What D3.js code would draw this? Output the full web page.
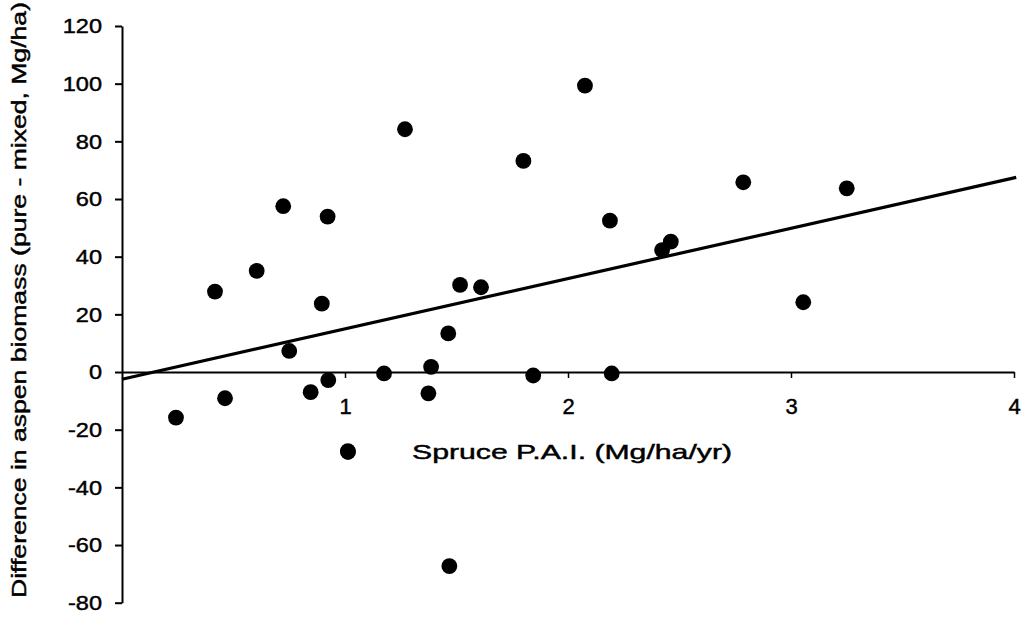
<!DOCTYPE html>
<html><head><meta charset="utf-8">
<script src="https://cdn.jsdelivr.net/npm/d3@7"></script>
<style>
body{margin:0;background:#fff;}
svg text{font-family:"Liberation Sans",Arial,sans-serif;fill:#000;stroke:#000;stroke-width:0.45px;}
</style></head>
<body><svg id="c" width="1027" height="625"></svg>
<script>
const pai = [0.242,0.417,0.462,0.604,0.723,0.750,0.846,0.896,0.922,0.925,1.013,1.175,1.269,1.374,1.386,1.463,1.468,1.516,1.610,1.800,1.844,2.076,2.188,2.196,2.422,2.461,2.786,3.055,3.250];
const diff = [-15.8,27.9,-9.1,35.1,57.5,7.3,-7.0,23.7,53.9,-2.8,-27.4,-0.5,84.2,-7.4,1.8,13.4,-67.3,30.2,29.4,73.2,-1.2,99.3,52.5,-0.5,42.3,45.2,65.8,24.2,63.7];
const trendX = [0, 4.01];
const trendY = [-2.5, 67.5];
const xTicks = [1,2,3,4];
const yTicks = [-80,-60,-40,-20,0,20,40,60,80,100,120];
const xLabel = "Spruce P.A.I. (Mg/ha/yr)";
const yLabel = "Difference in aspen biomass (pure - mixed, Mg/ha)";

const svg = d3.select("#c");
const x = d3.scaleLinear().domain([0,4]).range([122,1014]);
const y = d3.scaleLinear().domain([-80,120]).range([602.7,26]);
const fmt = d => String(d);

// y axis
const ya = svg.append("g").attr("transform","translate(122,0)")
  .call(d3.axisLeft(y).tickValues(yTicks).tickSize(7).tickSizeOuter(0).tickPadding(13).tickFormat(fmt));
ya.select(".domain").attr("stroke","#000").attr("stroke-width",2);
ya.selectAll(".tick line").attr("stroke","#000").attr("stroke-width",2);
ya.selectAll(".tick text").attr("font-size",21).attr("font-family","Liberation Sans, Arial, sans-serif")
  .each(function(){ const w=this.getComputedTextLength(); d3.select(this).attr("textLength", w*1.12).attr("lengthAdjust","spacingAndGlyphs"); });

// x axis at y=0
const xa = svg.append("g").attr("transform",`translate(0,${y(0)})`)
  .call(d3.axisBottom(x).tickValues(xTicks).tickSize(6).tickSizeOuter(0).tickFormat(fmt));
xa.select(".domain").attr("stroke","#000").attr("stroke-width",2);
xa.selectAll(".tick line").attr("stroke","#000").attr("stroke-width",1.5);
xa.selectAll(".tick text").attr("font-size",22).attr("font-family","Liberation Sans, Arial, sans-serif")
  .attr("y",34).attr("dy","0.35em");

// trend line
const line = d3.line().x((d,i)=>x(trendX[i])).y((d,i)=>y(trendY[i]));
svg.append("path").datum(trendX).attr("d",line).attr("fill","none").attr("stroke","#000").attr("stroke-width",3.2);

// points
svg.append("g").selectAll("circle").data(pai).join("circle")
  .attr("cx",d=>x(d)).attr("cy",(d,i)=>y(diff[i])).attr("r",7.9).attr("fill","#000");

// legend
svg.append("circle").attr("cx",348).attr("cy",452).attr("r",7.9).attr("fill","#000");
const lt = svg.append("text").attr("x",412).attr("y",452).attr("dy","0.35em").attr("font-size",21).text(xLabel);
lt.attr("textLength",320).attr("lengthAdjust","spacingAndGlyphs");

// y title
const yt = svg.append("text").attr("transform","translate(19,300) rotate(-90)")
  .attr("text-anchor","middle").attr("dy","0.35em").attr("font-size",21).text(yLabel);
yt.attr("textLength",596).attr("lengthAdjust","spacingAndGlyphs");
</script></body></html>
